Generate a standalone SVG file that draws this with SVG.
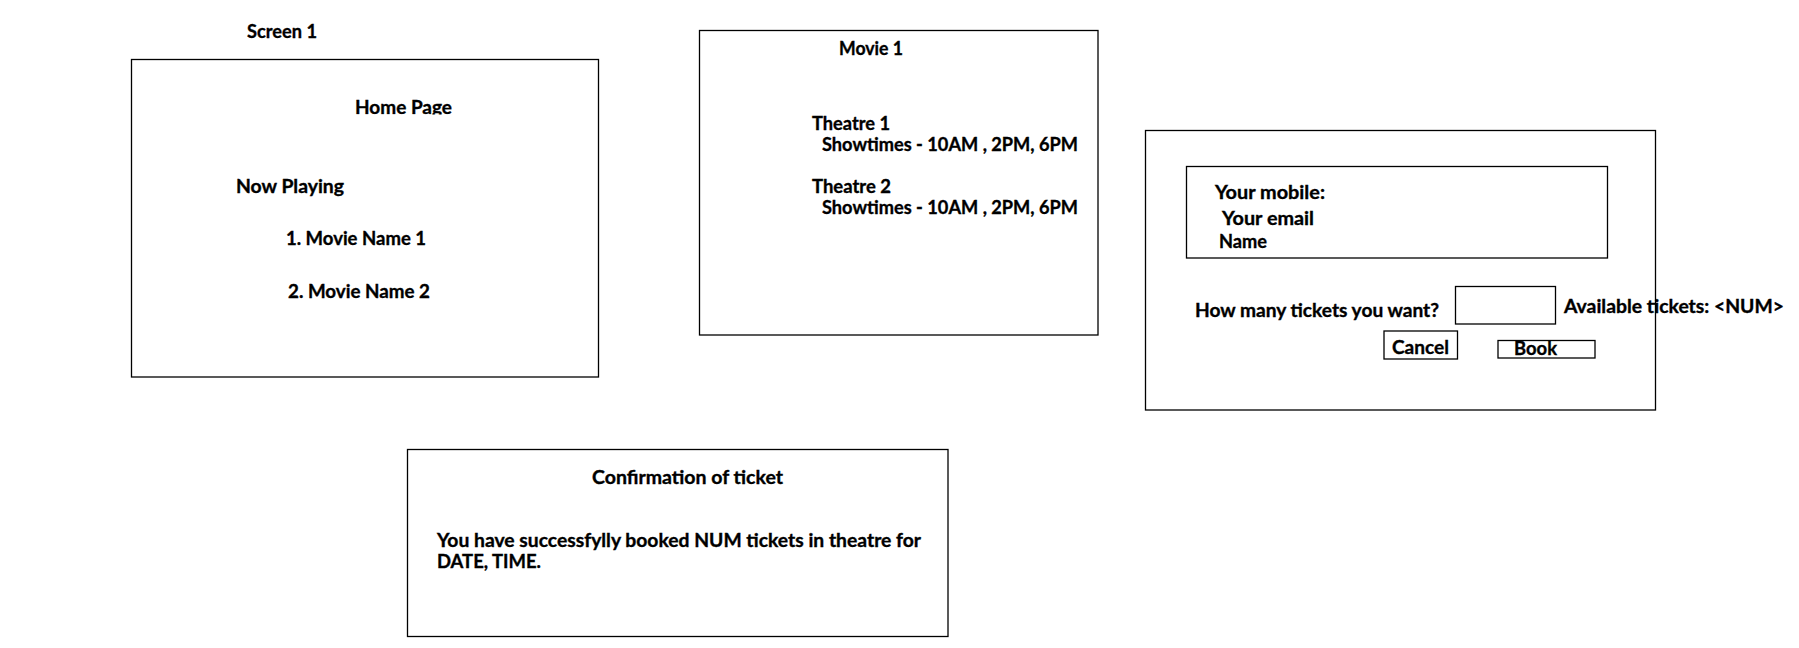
<svg xmlns="http://www.w3.org/2000/svg" width="1799" height="648" viewBox="0 0 1799 648">
<style>
.box{fill:none;stroke:#000;stroke-width:1.3}
.t{font-family:Lato,"Noto Sans","Liberation Sans",sans-serif;font-weight:bold;font-size:18.8px;fill:#000;stroke:#000;stroke-width:0.35}
</style>
<defs>
<clipPath id="hpclip"><rect x="340" y="90" width="130" height="24.5"/></clipPath>
</defs>
<rect width="1799" height="648" fill="#fff"/>
<g id="screen1-label">
<text class="t" x="247" y="38" textLength="70" lengthAdjust="spacingAndGlyphs">Screen 1</text>
</g>
<g id="home-page">
<rect class="box" x="131.5" y="59.5" width="467" height="317.5"/>
<text class="t" x="355" y="114" textLength="97" lengthAdjust="spacingAndGlyphs" clip-path="url(#hpclip)">Home Page</text>
<text class="t" x="236" y="193" textLength="108" lengthAdjust="spacingAndGlyphs">Now Playing</text>
<text class="t" x="286" y="245" textLength="140" lengthAdjust="spacingAndGlyphs">1. Movie Name 1</text>
<text class="t" x="288" y="298" textLength="142" lengthAdjust="spacingAndGlyphs">2. Movie Name 2</text>
</g>
<g id="movie-page">
<rect class="box" x="699.5" y="30.5" width="398.5" height="304.5"/>
<text class="t" x="839" y="55" textLength="64" lengthAdjust="spacingAndGlyphs">Movie 1</text>
<text class="t" x="812" y="130" textLength="78" lengthAdjust="spacingAndGlyphs">Theatre 1</text>
<text class="t" x="822" y="151" textLength="256" lengthAdjust="spacingAndGlyphs">Showtimes - 10AM , 2PM, 6PM</text>
<text class="t" x="812" y="193" textLength="79" lengthAdjust="spacingAndGlyphs">Theatre 2</text>
<text class="t" x="822" y="214" textLength="256" lengthAdjust="spacingAndGlyphs">Showtimes - 10AM , 2PM, 6PM</text>
</g>
<g id="booking-page">
<rect class="box" x="1145.5" y="130.5" width="510" height="279.5"/>
<rect class="box" x="1186.5" y="166.5" width="421" height="91.5"/>
<text class="t" x="1215" y="199" textLength="110" lengthAdjust="spacingAndGlyphs">Your mobile:</text>
<text class="t" x="1222" y="225" textLength="92" lengthAdjust="spacingAndGlyphs">Your email</text>
<text class="t" x="1219" y="248" textLength="48" lengthAdjust="spacingAndGlyphs">Name</text>
<text class="t" x="1195" y="317" textLength="244" lengthAdjust="spacingAndGlyphs">How many tickets you want?</text>
<rect class="box" x="1455.5" y="286.5" width="100" height="37.5"/>
<text class="t" x="1564" y="313" textLength="220" lengthAdjust="spacingAndGlyphs">Available tickets: &lt;NUM&gt;</text>
<g id="cancel-button">
<rect class="box" x="1384" y="331" width="73.5" height="28"/>
<text class="t" x="1392" y="354" textLength="57" lengthAdjust="spacingAndGlyphs">Cancel</text>
</g>
<g id="book-button">
<rect class="box" x="1498" y="340.5" width="97" height="17.5"/>
<text class="t" x="1514" y="355" textLength="43" lengthAdjust="spacingAndGlyphs">Book</text>
</g>
</g>
<g id="confirmation-page">
<rect class="box" x="407.5" y="449.5" width="540.5" height="187"/>
<text class="t" x="592" y="484" textLength="191" lengthAdjust="spacingAndGlyphs">Confirmation of ticket</text>
<text class="t" x="437" y="547" textLength="484" lengthAdjust="spacingAndGlyphs">You have successfylly booked NUM tickets in theatre for</text>
<text class="t" x="437" y="568" textLength="104" lengthAdjust="spacingAndGlyphs">DATE, TIME.</text>
</g>
<g id="connectors"></g>
</svg>
